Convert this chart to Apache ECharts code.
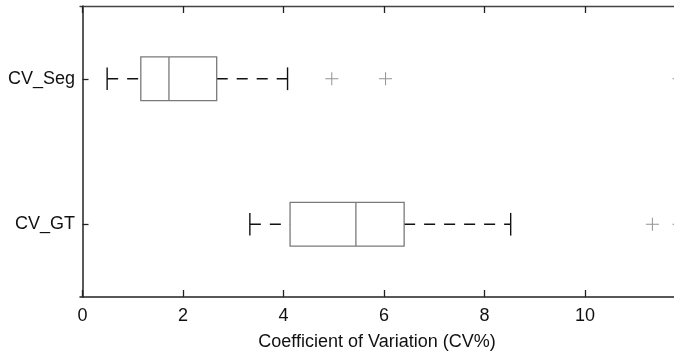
<!DOCTYPE html>
<html>
<head>
<meta charset="utf-8">
<script src="https://cdn.jsdelivr.net/npm/echarts@6/dist/echarts.min.js"></script>
<style>
  html, body { margin: 0; padding: 0; background: #fff; }
  #chart { width: 674px; height: 356px; }
</style>
</head>
<body>
<div id="chart"></div>
<script>
// categories bottom -> top
const categories = ["CV_GT", "CV_Seg"];
const lowWhisker = [3.33, 0.49];
const q1 = [4.13, 1.16];
const median = [5.44, 1.72];
const q3 = [6.40, 2.67];
const highWhisker = [8.52, 4.08];
const outliersGT = [11.34, 11.87];
const outliersSeg = [4.96, 6.03, 11.87];
const xTicks = [0, 2, 4, 6, 8, 10];

const boxData = categories.map((c, i) => [i, lowWhisker[i], q1[i], median[i], q3[i], highWhisker[i]]);
const outlierData = []
  .concat(outliersGT.map((v) => [v, 0]))
  .concat(outliersSeg.map((v) => [v, 1]));

const renderBox = function (params, api) {
  const cat = api.value(0);
  const lo = api.coord([api.value(1), cat]);
  const b1 = api.coord([api.value(2), cat]);
  const md = api.coord([api.value(3), cat]);
  const b3 = api.coord([api.value(4), cat]);
  const hi = api.coord([api.value(5), cat]);
  const band = api.size([0, 1])[1];
  const h = band * 0.3;
  const capH = h * 0.52;
  const y = lo[1];
  const dash = { stroke: "#111", lineWidth: 1.3, lineDash: [11, 9] };
  const solid = { stroke: "#111", lineWidth: 1.4 };
  const grey = { stroke: "#7a7a7a", lineWidth: 1.3, fill: "none" };
  return {
    type: "group",
    children: [
      { type: "line", shape: { x1: lo[0], y1: y, x2: b1[0], y2: y }, style: dash },
      { type: "line", shape: { x1: b3[0], y1: y, x2: hi[0], y2: y }, style: dash },
      { type: "line", shape: { x1: lo[0], y1: y - capH / 2, x2: lo[0], y2: y + capH / 2 }, style: solid },
      { type: "line", shape: { x1: hi[0], y1: y - capH / 2, x2: hi[0], y2: y + capH / 2 }, style: solid },
      { type: "rect", shape: { x: b1[0], y: y - h / 2, width: b3[0] - b1[0], height: h }, style: grey },
      { type: "line", shape: { x1: md[0], y1: y - h / 2, x2: md[0], y2: y + h / 2 }, style: grey },
    ],
  };
};

const chart = echarts.init(document.getElementById("chart"));
const axisFont = { color: "#111", fontSize: 18, fontFamily: "Liberation Sans, Arial, sans-serif" };
chart.setOption({
  animation: false,
  grid: { left: 80, right: 0, top: 6, bottom: 59 },
  xAxis: [
    {
      type: "value",
      min: -0.05,
      max: 11.77,
      position: "bottom",
      name: "Coefficient of Variation (CV%)",
      nameLocation: "middle",
      nameGap: 36,
      nameTextStyle: axisFont,
      splitLine: { show: false },
      axisLine: { show: true, lineStyle: { color: "#222", width: 1.5 } },
      axisTick: { show: true, inside: true, length: 7, customValues: xTicks, lineStyle: { color: "#222", width: 1.3 } },
      axisLabel: Object.assign({ margin: 10, customValues: xTicks }, axisFont),
    },
    {
      type: "value",
      min: -0.05,
      max: 11.77,
      position: "top",
      splitLine: { show: false },
      axisLine: { show: true, lineStyle: { color: "#444", width: 1.3 } },
      axisTick: { show: true, inside: true, length: 7, customValues: xTicks, lineStyle: { color: "#222", width: 1.3 } },
      axisLabel: { show: false },
    },
  ],
  yAxis: {
    type: "category",
    data: categories,
    axisLine: { show: true, lineStyle: { color: "#222", width: 1.5 } },
    axisTick: { show: true, inside: true, alignWithLabel: true, length: 6, lineStyle: { color: "#222", width: 1.3 } },
    axisLabel: Object.assign({ margin: 5 }, axisFont),
    splitLine: { show: false },
  },
  series: [
    {
      type: "custom",
      renderItem: renderBox,
      encode: { y: 0, x: [1, 2, 3, 4, 5] },
      data: boxData,
      clip: false,
    },
    {
      type: "scatter",
      data: outlierData,
      clip: false,
      symbol: "path://M6,0h1v6h6v1h-6v6h-1v-6h-6v-1h6z",
      symbolSize: 13,
      itemStyle: { color: "#777" },
    },
  ],
});
</script>
</body>
</html>
